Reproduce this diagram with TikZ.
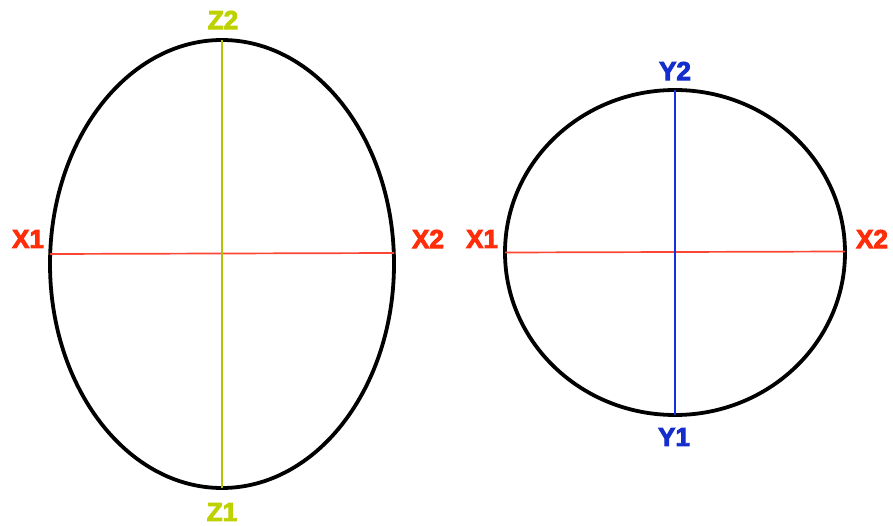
\documentclass[tikz,border=0pt]{standalone}
\usepackage{fontspec}
\setmainfont{Liberation Sans}
\newfontfamily\lblfont{Liberation Sans}[BoldFeatures={FakeBold=3.5}]
\definecolor{xred}{RGB}{255,45,10}
\definecolor{xline}{RGB}{250,70,50}
\definecolor{zlime}{RGB}{190,210,0}
\definecolor{zline}{RGB}{175,195,10}
\definecolor{yblue}{RGB}{20,45,205}
\definecolor{yline}{RGB}{25,45,230}
\tikzset{
  outline/.style={line width=3.8pt, black},
  lbl/.style={inner sep=0pt, font=\lblfont\fontsize{26}{30}\selectfont\bfseries},
  axis/.style={line width=1.7pt}
}
\begin{document}
\begin{tikzpicture}[x=1pt,y=-1pt]
\useasboundingbox (0,0) rectangle (893,526);
% left ellipse
\draw[outline] (222,264) ellipse [x radius=172pt, y radius=224pt];
\coordinate (la) at (50,254);
\coordinate (lb) at (394,253);
\coordinate (lt) at (222,40);
\coordinate (lbot) at (222,488);
\draw[axis, xline] (la) -- (lb);
\draw[axis, zline] (lt) -- (lbot);
\node[lbl, xred] (lx1) at (28,239) {X1};
\node[lbl, xred] (lx2) at (428,239) {X2};
\node[lbl, zlime] (z2) at (223,20) {Z2};
\node[lbl, zlime] (z1) at (222,512) {Z1};
% right circle
\draw[outline] (675,252.5) ellipse [x radius=170pt, y radius=162.5pt];
\coordinate (ra) at (505,252.5);
\coordinate (rb) at (845,251.5);
\coordinate (rt) at (675,90);
\coordinate (rbot) at (675,415);
\draw[axis, xline] (ra) -- (rb);
\draw[axis, yline] (rt) -- (rbot);
\node[lbl, xred] (rx1) at (482,239) {X1};
\node[lbl, xred] (rx2) at (872,239) {X2};
\node[lbl, yblue] (y2) at (675,71) {Y2};
\node[lbl, yblue] (y1) at (674,437) {Y1};
\end{tikzpicture}
\end{document}
